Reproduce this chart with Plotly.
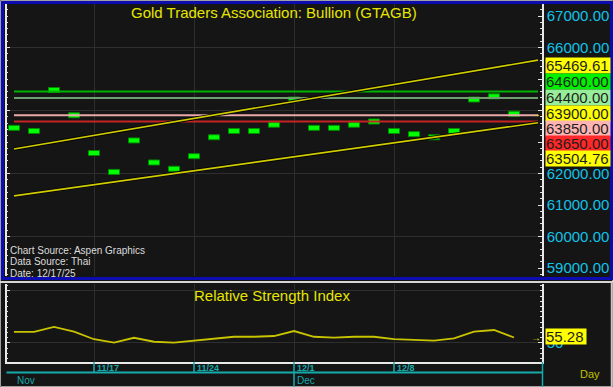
import plotly.graph_objects as go

W, H = 613, 387
FONT = "Liberation Sans, Arial, sans-serif"

# ---------------- data ----------------
dates = ["2025-11-11", "2025-11-12", "2025-11-13", "2025-11-14",
         "2025-11-17", "2025-11-18", "2025-11-19", "2025-11-20", "2025-11-21",
         "2025-11-24", "2025-11-25", "2025-11-26", "2025-11-27", "2025-11-28",
         "2025-12-01", "2025-12-02", "2025-12-03", "2025-12-04", "2025-12-05",
         "2025-12-08", "2025-12-09", "2025-12-10", "2025-12-11", "2025-12-12",
         "2025-12-15", "2025-12-16"]
close = [63450, 63350, 64650, 63850, 62650, 62050, 63050, 62350, 62150, 62550,
         63150, 63350, 63350, 63550, 64350, 63450, 63450, 63550, 63650, 63350,
         63250, 63150, 63350, 64350, 64450, 63900]
rsi = [60.6, 60.6, 65.4, 61.0, 53.6, 50.3, 55.0, 51.2, 50.3, 52.2,
       54.5, 56.0, 56.0, 56.7, 61.5, 56.0, 55.1, 56.0, 56.0, 53.8,
       52.9, 52.2, 54.5, 60.9, 62.5, 55.28]
levels = [64600, 64400, 63850, 63650]
upper_first, upper_last = 62780, 65469.61
lower_first, lower_last = 61290, 63504.76
price_ticks = [59000, 60000, 61000, 62000, 63000, 64000, 65000, 66000, 67000]
rsi_ticks = [50]
week_labels = ["11/17", "11/24", "12/1", "12/8"]
week_dates = ["2025-11-17", "2025-11-24", "2025-12-01", "2025-12-08"]
month_labels = ["Nov", "Dec"]
month_dates = ["2025-11-11", "2025-12-01"]

# ---------------- styles ----------------
BG = "#151515"
GRID = "#2e2e2e"
CYAN = "#12c2e8"
TEAL = "#16abab"
YEL = "#e6e600"
level_colors = ["#00b400", "#6f9f6f", "#eaa8a8", "#c42424"]
label_vals = [upper_last, levels[0], levels[1], close[-1], levels[2], levels[3], lower_last]
label_bg = ["#ffff00", "#00f000", "#98ee98", "#ffff00", "#ffb4b4", "#ff2828", "#ffff00"]
label_nudge = [-1, 10, 0, 0, -13, -21.5, -32]


def px(x):
    return x / W


def py(y):
    return 1 - y / H


def cyan(t):
    return f"<span style='color:{CYAN}'>{t}</span>"


n = len(close)
idx = list(range(n))
xr = [-0.375, 26.4]
ext_x = n - 1 + 1.2

main_top, main_bot = 4, 276
yr_main = [58746, 67381]
upp = (yr_main[1] - yr_main[0]) / (main_bot - main_top)
bar_h = 5 * upp

rsi_top, rsi_bot = 284, 362
yr_rsi = [31.73, 106.7]

fig = go.Figure()

for lv, col in zip(levels, level_colors):
    fig.add_trace(go.Scatter(x=[0, ext_x], y=[lv, lv], mode="lines",
                             line=dict(color=col, width=2), hoverinfo="skip",
                             xaxis="x", yaxis="y"))


def chan(y0, y1):
    slope = (y1 - y0) / (n - 1)
    return [y0, y0 + slope * ext_x]


for a, b in [(upper_first, upper_last), (lower_first, lower_last)]:
    ys = chan(a, b)
    fig.add_trace(go.Scatter(x=[0, ext_x], y=ys, mode="lines",
                             line=dict(color="#050505", width=3.5), hoverinfo="skip",
                             xaxis="x", yaxis="y"))
    fig.add_trace(go.Scatter(x=[0, ext_x], y=ys, mode="lines",
                             line=dict(color="#d0cc00", width=1.6), hoverinfo="skip",
                             xaxis="x", yaxis="y"))

fig.add_trace(go.Bar(x=idx, y=[bar_h] * n, base=[c - bar_h / 2 for c in close],
                     width=0.55, marker=dict(color="#00ff00",
                                             line=dict(color="#008c00", width=1)),
                     hoverinfo="skip", xaxis="x", yaxis="y"))

fig.add_trace(go.Scatter(x=[0], y=[close[0]], mode="markers", opacity=0,
                         hoverinfo="skip", xaxis="x", yaxis="y3"))

fig.add_trace(go.Scatter(x=idx, y=rsi, mode="lines",
                         line=dict(color="#c8c400", width=1.8), hoverinfo="skip",
                         xaxis="x2", yaxis="y2"))
fig.add_trace(go.Scatter(x=[0], y=[rsi[0]], mode="markers", opacity=0,
                         hoverinfo="skip", xaxis="x2", yaxis="y4"))

xdom = [px(6.5), px(542)]
ax_common = dict(domain=xdom, range=xr, tickmode="array",
                 tickvals=[dates.index(d) for d in week_dates],
                 showticklabels=False, ticks="", showgrid=True, gridcolor=GRID,
                 gridwidth=1, zeroline=False, fixedrange=True)

minor_main = dict(dtick=200, tick0=0, ticks="inside", ticklen=2, tickcolor="#e0e0e0",
                  showgrid=False)
minor_rsi = dict(dtick=5, tick0=0, ticks="inside", ticklen=2, tickcolor="#e0e0e0",
                 showgrid=False)

fig.update_layout(
    template="none",
    width=W, height=H, margin=dict(l=0, r=0, t=0, b=0),
    paper_bgcolor=BG, plot_bgcolor=BG, showlegend=False,
    font=dict(family=FONT, color=CYAN),
    xaxis=dict(**ax_common, anchor="y", showline=False),
    xaxis2=dict(**ax_common, anchor="y2", matches="x", showline=True,
                linecolor="#e8e8e8", linewidth=1.5),
    yaxis=dict(domain=[py(main_bot), py(main_top)], range=yr_main, anchor="x",
               tickmode="linear", tick0=0, dtick=2000, showgrid=True, gridcolor=GRID,
               showticklabels=False, ticks="inside", ticklen=4, tickcolor="#e0e0e0",
               showline=True, linecolor="#e8e8e8", linewidth=1.5, zeroline=False,
               minor=minor_main, fixedrange=True),
    yaxis3=dict(overlaying="y", side="right", anchor="x", range=yr_main,
                tickmode="array", tickvals=price_ticks,
                ticktext=[cyan(f"{v:.2f}") for v in price_ticks],
                tickfont=dict(color=CYAN, size=15, family=FONT),
                ticks="inside", ticklen=4, tickcolor="#e0e0e0", showgrid=False,
                showline=True, linecolor="#e8e8e8", linewidth=1.5, zeroline=False,
                minor=minor_main, fixedrange=True),
    yaxis2=dict(domain=[py(rsi_bot), py(rsi_top)], range=yr_rsi, anchor="x2",
                tickmode="array", tickvals=[50, 100], showgrid=True, gridcolor=GRID,
                showticklabels=False, ticks="inside", ticklen=4, tickcolor="#e0e0e0",
                showline=True, linecolor="#e8e8e8", linewidth=1.5, zeroline=False,
                minor=minor_rsi, fixedrange=True),
    yaxis4=dict(overlaying="y2", side="right", anchor="x2", range=yr_rsi,
                tickmode="array", tickvals=rsi_ticks,
                ticktext=[cyan(str(v)) for v in rsi_ticks],
                tickfont=dict(color=CYAN, size=15, family=FONT),
                ticks="inside", ticklen=4, tickcolor="#e0e0e0", showgrid=False,
                showline=True, linecolor="#e8e8e8", linewidth=1.5, zeroline=False,
                minor=minor_rsi, fixedrange=True),
)

shapes = []
shapes.append(dict(type="rect", xref="paper", yref="paper", x0=px(0.5), x1=px(612.5),
                   y0=py(0.5), y1=py(386.5), line=dict(color="#a0a0a0", width=1)))
shapes.append(dict(type="rect", xref="paper", yref="paper", x0=px(2.5), x1=px(611.5),
                   y0=py(2.5), y1=py(278.5), line=dict(color="#0c0cb0", width=3)))
shapes.append(dict(type="line", xref="paper", yref="paper", x0=0, x1=1,
                   y0=py(282), y1=py(282), line=dict(color="#d4d4d4", width=2)))
shapes.append(dict(type="line", xref="paper", yref="paper", x0=px(611.5), x1=px(611.5),
                   y0=py(282), y1=py(387), line=dict(color="#c8c8c8", width=1.5)))
shapes.append(dict(type="line", xref="paper", yref="paper", x0=px(6.5), x1=px(542.5),
                   y0=py(372.5), y1=py(372.5), line=dict(color=TEAL, width=2)))
shapes.append(dict(type="line", xref="paper", yref="paper", x0=px(542.5), x1=px(542.5),
                   y0=py(362), y1=py(387), line=dict(color=TEAL, width=1.5)))
month_pos = [dates.index(d) for d in month_dates]
for d in week_dates:
    p = dates.index(d)
    bottom = 387 if p in month_pos else 373
    shapes.append(dict(type="line", xref="x2", yref="paper", x0=p, x1=p,
                       y0=py(362), y1=py(bottom), line=dict(color=TEAL, width=1.5)))

ann = []


def A(**kw):
    kw.setdefault("showarrow", False)
    kw.setdefault("xanchor", "center")
    kw.setdefault("yanchor", "middle")
    ann.append(kw)


A(x=px(273.5), y=py(12), xref="paper", yref="paper",
  text="Gold Traders Association: Bullion (GTAGB)",
  font=dict(size=15, color=YEL, family=FONT))
A(x=px(272), y=py(295), xref="paper", yref="paper", text="Relative Strength Index",
  font=dict(size=15, color=YEL, family=FONT))
for i, t in enumerate(["Chart Source: Aspen Graphics", "Data Source: Thai",
                       "Date: 12/17/25"]):
    A(x=px(7.5), y=py(250 + 11.6 * i), xref="paper", yref="paper", xanchor="left",
      text=t, font=dict(size=10, color="#dcdcdc", family=FONT))
for v, bg, nud in zip(label_vals, label_bg, label_nudge):
    A(x=px(545), xref="paper", xanchor="left", y=v, yref="y", yshift=nud,
      text=f"{v:.2f}", bgcolor=bg, borderpad=0, width=64, height=15, align="left",
      font=dict(size=15, color="#1e1e1e", family=FONT))
A(x=px(545), xref="paper", xanchor="left", y=rsi[-1], yref="y2", yshift=1,
  text=f"{rsi[-1]:.2f}", bgcolor="#ffff00", borderpad=0, width=40, height=15,
  align="left", font=dict(size=15, color="#1e1e1e", family=FONT))
for yy, ref in [(close[-1], "y"), (rsi[-1], "y2")]:
    A(x=px(536), xref="paper", y=yy, yref=ref, text="→",
      font=dict(size=10, color=YEL, family=FONT))
for lab, d in zip(week_labels, week_dates):
    A(x=dates.index(d), xref="x2", xanchor="left", xshift=1, y=py(368), yref="paper",
      text=f"<b>{lab}</b>", font=dict(size=9, color=TEAL, family=FONT))
for lab, d in zip(month_labels, month_dates):
    A(x=dates.index(d), xref="x2", xanchor="left", xshift=1, y=py(380), yref="paper",
      text=lab, font=dict(size=10, color=TEAL, family=FONT))
A(x=px(590), y=py(374), xref="paper", yref="paper", text="Day",
  font=dict(size=11, color="#c0c000", family=FONT))

fig.update_layout(shapes=shapes, annotations=ann)
fig.write_html("out.html", config={"displayModeBar": False},
               post_script="document.body.style.margin='0';"
                           "document.body.style.overflow='hidden';")
